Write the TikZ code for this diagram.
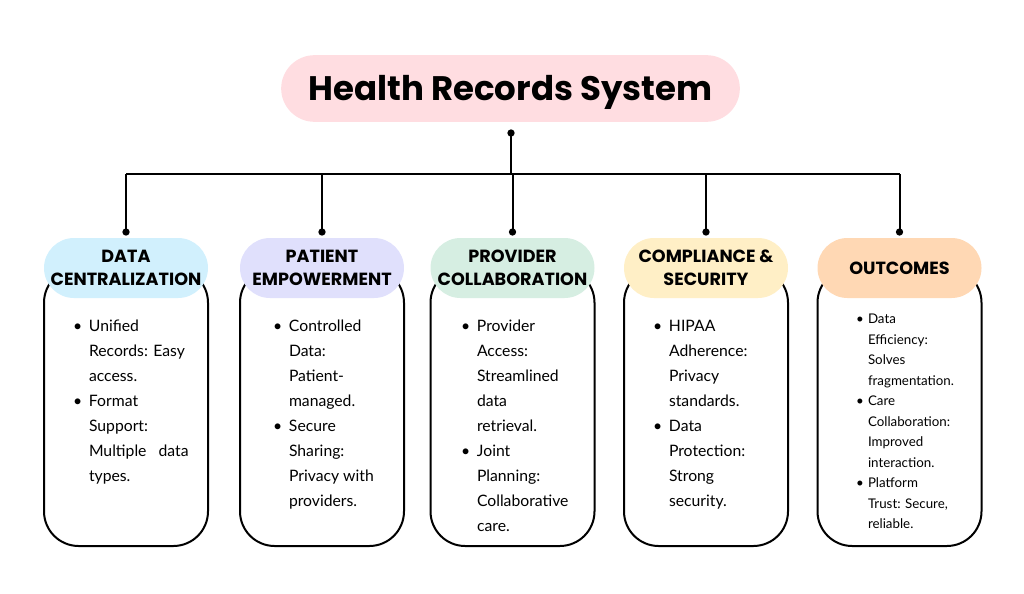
\documentclass[tikz,border=0pt]{standalone}
\usepackage{fontspec}
\setmainfont{Lato}
\newfontfamily\headfont{Poppins}
\usetikzlibrary{positioning}
\definecolor{titlepink}{RGB}{255,221,225}
\definecolor{datablue}{RGB}{209,240,253}
\definecolor{patientlilac}{RGB}{224,224,252}
\definecolor{providermint}{RGB}{214,238,226}
\definecolor{compliancecream}{RGB}{255,239,198}
\definecolor{outcomepeach}{RGB}{255,216,180}
% bullet and hanging indent for the card texts
\newcommand{\itm}{\makebox[12pt][l]{\textbullet}}
\newcommand{\cnt}{\hspace*{12pt}}
\newcommand{\itms}{\makebox[9pt][l]{\textbullet}}
\newcommand{\cnts}{\hspace*{9pt}}
\begin{document}
\begin{tikzpicture}[x=0.75pt, y=-0.75pt, line width=1.5pt,
  titlebox/.style={fill=titlepink, rounded corners=25pt, minimum width=344pt, minimum height=50pt, text height=17.8pt, text depth=0pt, font=\headfont\bfseries\fontsize{25.5}{30}\selectfont},
  pill/.style={rounded corners=22.5pt, minimum width=123pt, minimum height=45pt, inner sep=0pt, align=center, font=\headfont\bfseries\fontsize{13.2}{17}\selectfont},
  card/.style={draw, fill=white, rounded corners=26pt, minimum width=123pt, minimum height=208.5pt},
  body/.style={anchor=north west, inner sep=0pt, align=left, font=\fontsize{11.8}{18.75}\selectfont},
  smallbody/.style={anchor=north west, inner sep=0pt, align=left, font=\fontsize{10}{15.4}\selectfont},
  dot/.style={circle, fill, inner sep=0pt, minimum size=5.5pt}]
  \useasboundingbox (0,0) rectangle (1024,593);
  % Title
  \node[titlebox] (title) at (510.5,88.5) {Health Records System};
  % Cards and headers
  \foreach \px/\nm/\clr/\lbl in {126/data/datablue/{DATA\\CENTRALIZATION}, 322/patient/patientlilac/{PATIENT\\EMPOWERMENT}, 512.5/provider/providermint/{PROVIDER\\COLLABORATION}, 706/compliance/compliancecream/{COMPLIANCE \&\\SECURITY}, 899.5/outcomes/outcomepeach/{OUTCOMES}} {
    \node[card] (\nm card) at (\px,407) {};
    \node[pill, fill=\clr] (\nm) at (\px,268) {\lbl};
    \coordinate (\nm pin) at ([yshift=3.75pt]\nm.north);
  }
  % Connectors
  \coordinate (hub) at (511,133);
  \coordinate (bus) at (511,174);
  \draw (hub) -- (bus);
  \draw (datapin|-bus) -- (outcomespin|-bus);
  \foreach \nm in {data,patient,provider,compliance,outcomes} \draw (\nm pin|-bus) -- (\nm pin);
  \foreach \nm in {hub,datapin,patientpin,providerpin,compliancepin,outcomespin} \node[dot] at (\nm) {};
  % Card texts
  \node[body] (datatext) at (72,319) {\itm Unified\\\cnt Records: Easy\\\cnt access.\\\itm Format\\\cnt Support:\\\cnt Multiple\ \ \ data\\\cnt types.};
  \node[body] (patienttext) at (272,319) {\itm Controlled\\\cnt Data:\\\cnt Patient-\\\cnt managed.\\\itm Secure\\\cnt Sharing:\\\cnt Privacy with\\\cnt providers.};
  \node[body] (providertext) at (460,319) {\itm Provider\\\cnt Access:\\\cnt Streamlined\\\cnt data\\\cnt retrieval.\\\itm Joint\\\cnt Planning:\\\cnt Collaborative\\\cnt care.};
  \node[body] (compliancetext) at (652,319) {\itm HIPAA\\\cnt Adherence:\\\cnt Privacy\\\cnt standards.\\\itm Data\\\cnt Protection:\\\cnt Strong\\\cnt security.};
  \node[smallbody] (outcomestext) at (855,313) {\itms Data\\\cnts Efficiency:\\\cnts Solves\\\cnts fragmentation.\\\itms Care\\\cnts Collaboration:\\\cnts Improved\\\cnts interaction.\\\itms Platform\\\cnts Trust: Secure,\\\cnts reliable.};
\end{tikzpicture}
\end{document}
